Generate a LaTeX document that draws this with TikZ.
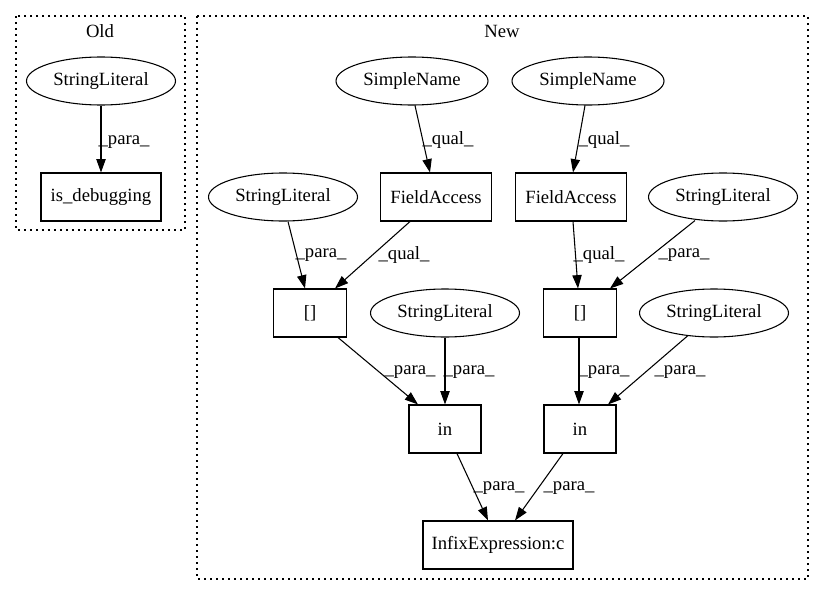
\documentclass[tikz,border=0pt]{standalone}
\usepackage{fontspec}
\setmainfont{Liberation Serif}
\usetikzlibrary{arrows.meta,calc,shapes.geometric}
\tikzset{
  every node/.style={font=\fontsize{14}{16}\selectfont},
  ell/.style={draw, ellipse, line width=0.8pt, inner sep=0pt, minimum height=36pt, minimum width=111.75pt},
  box/.style={draw, rectangle, line width=0.8pt, inner sep=0pt, minimum height=36pt},
  edge/.style={draw, line width=0.8pt, -{Triangle[length=10pt,width=7pt]}},
  lbl/.style={inner sep=0pt},
  clust/.style={draw, line width=0.9pt, dash pattern=on 1.2pt off 3.3pt},
}
\begin{document}
\begin{tikzpicture}[x=0.75pt,y=-0.75pt]
\useasboundingbox (0,0) rectangle (825,596);
% clusters
\draw[clust] (16,16) rectangle (185,230);
\draw[clust] (197,16) rectangle (808,579);
\node[lbl] (old) at (100,31) {Old};
\node[lbl] (new) at (502,31) {New};
% Old
\node[ell] (oSL) at (101,81) {StringLiteral};
\node[box, minimum width=90pt] (isdbg) at (101,197) {is\_debugging};
% New
\node[ell, minimum width=114pt] (SN1) at (412,81) {SimpleName};
\node[ell, minimum width=114pt] (SN2) at (588,81) {SimpleName};
\node[box, minimum width=83.25pt] (FA1) at (436,197) {FieldAccess};
\node[box, minimum width=83.25pt] (FA2) at (571,197) {FieldAccess};
\node[ell] (SLl) at (283,197) {StringLiteral};
\node[ell] (SLr) at (723,197) {StringLiteral};
\node[box, minimum width=54.75pt] (Bl) at (310,313) {[]};
\node[box, minimum width=54.75pt] (Br) at (580,313) {[]};
\node[ell] (SLml) at (445,313) {StringLiteral};
\node[ell] (SLmr) at (714,313) {StringLiteral};
\node[box, minimum width=54pt] (inl) at (445,429) {in};
\node[box, minimum width=54pt] (inr) at (580,429) {in};
\node[box, minimum width=112.5pt] (infix) at (498,545) {InfixExpression:c};
% edges
\draw[edge] (oSL.south) -- (isdbg.north);
\draw[edge] ($(SN1.south)+(3,0)$) -- ($(FA1.north)+(-6,0)$);
\draw[edge] ($(SN2.south)+(-3,0)$) -- ($(FA2.north)+(2,0)$);
\draw[edge] ($(SLl.south)+(5,0)$) -- ($(Bl.north)+(-5,0)$);
\draw[edge] ($(FA1.south)+(-26,0)$) -- ($(Bl.north)+(25,0)$);
\draw[edge] ($(FA2.south)+(2,0)$) -- ($(Br.north)+(-2,0)$);
\draw[edge] ($(SLr.south)+(-28,-1)$) -- ($(Br.north)+(30,0)$);
\draw[edge] ($(Bl.south)+(28,0)$) -- ($(inl.north)+(-27,0)$);
\draw[edge] (SLml.south) -- (inl.north);
\draw[edge] ($(Br.south)+(-1,0)$) -- ($(inr.north)+(-1,0)$);
\draw[edge] ($(SLmr.south)+(-26,-2)$) -- ($(inr.north)+(28,0)$);
\draw[edge] ($(inl.south)+(12,0)$) -- ($(infix.north)+(-10,0)$);
\draw[edge] ($(inr.south)+(-17,0)$) -- ($(infix.north)+(17,0)$);
% edge labels
\node[lbl] (e1) at (124,142) {\_para\_};
\node[lbl] (e2) at (448,140) {\_qual\_};
\node[lbl] (e3) at (604,140) {\_qual\_};
\node[lbl] (e4) at (321,255) {\_para\_};
\node[lbl] (e5) at (404,255) {\_qual\_};
\node[lbl] (e6) at (599,255) {\_qual\_};
\node[lbl] (e7) at (684,255) {\_para\_};
\node[lbl] (e8) at (410,372) {\_para\_};
\node[lbl] (e9) at (469,372) {\_para\_};
\node[lbl] (e10) at (604,372) {\_para\_};
\node[lbl] (e11) at (680,372) {\_para\_};
\node[lbl] (e12) at (499,488) {\_para\_};
\node[lbl] (e13) at (569,488) {\_para\_};
\end{tikzpicture}
\end{document}
